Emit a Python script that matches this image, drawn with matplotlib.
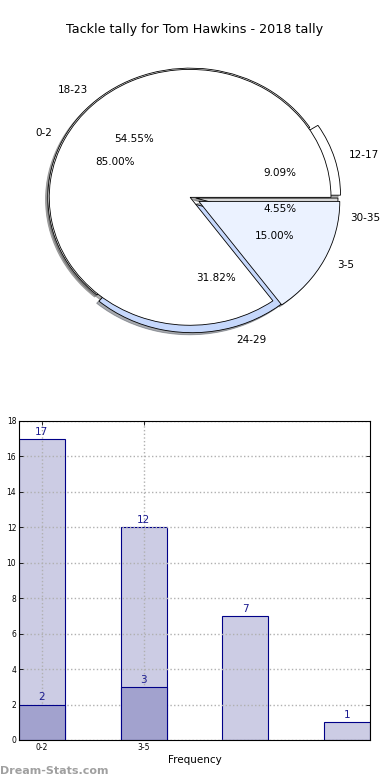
import numpy as np
import matplotlib
matplotlib.use("Agg")
import matplotlib.pyplot as plt

title = "Tackle tally for Tom Hawkins - 2018 tally"

# first pie
pie1_labels = ["0-2", "3-5"]
pie1_values = [17, 3]
# second pie
pie2_labels = ["12-17", "18-23", "24-29", "30-35"]
pie2_values = [2, 12, 7, 1]

# bar chart
bar_ticks = ["0-2", "3-5"]
bar_light = [17, 12, 7, 1]
bar_dark = [2, 3]

fig = plt.figure(figsize=(3.9, 7.8), dpi=100)
fig.text(0.5, 0.962, title, ha="center", va="center", fontsize=9.2)

shadow = dict(ox=-0.012, oy=-0.012, alpha=0.45)

ax1 = fig.add_axes([0.036, 0.542, 0.903, 0.41])
w2, t2, a2 = ax1.pie(pie2_values, labels=pie2_labels, autopct="%1.2f%%",
                     explode=[0.06, 0.0, 0.05, 0.04], shadow=shadow, radius=1.01,
                     colors=["white", "white", "#c6d8fc", "#d8d8d8"],
                     wedgeprops=dict(edgecolor="black", linewidth=0.6),
                     textprops=dict(fontsize=7.5))
w1, t1, a1 = ax1.pie(pie1_values, labels=pie1_labels, autopct="%1.2f%%",
                     explode=[0, 0.07], shadow=shadow,
                     colors=["white", "#ebf2ff"],
                     wedgeprops=dict(edgecolor="black", linewidth=0.6),
                     textprops=dict(fontsize=7.5))
for w in w1:
    w.set_zorder(2)
ax1.set_aspect("auto")
ax1.set_xlim(-1.25, 1.25)
ax1.set_ylim(-1.25, 1.25)

ax2 = fig.add_axes([0.0487, 0.0513, 0.9, 0.409])
x = np.arange(len(bar_light))
bl = ax2.bar(x, bar_light, width=0.45, align="edge", color="#ccccE4",
             edgecolor="#000088", linewidth=0.8, zorder=2)
bd = ax2.bar(x[:len(bar_dark)], bar_dark, width=0.45, align="edge", color="#a2a2ce",
             edgecolor="#000088", linewidth=0.8, zorder=3)
for bars in (bl, bd):
    for b in bars:
        ax2.text(b.get_x() + b.get_width() / 2, b.get_height() + 0.12, "%d" % b.get_height(),
                 ha="center", va="bottom", color="#1a1a90", fontsize=7.5, zorder=4)
ax2.set_xlim(0, 3.45)
ax2.set_ylim(0, 18)
ax2.set_yticks(np.arange(0, 19, 2))
ax2.set_xticks(x[:len(bar_ticks)] + 0.225)
ax2.set_xticklabels(bar_ticks)
ax2.tick_params(labelsize=5.5, direction="in", length=3, width=0.6, pad=2)
ax2.tick_params(top=True, right=True)
ax2.grid(True, linestyle=":", color="#b0b0b0", linewidth=1, zorder=0)
ax2.set_axisbelow(False)
ax2.set_xlabel("Frequency", fontsize=7.5, labelpad=2)
for s in ax2.spines.values():
    s.set_linewidth(0.8)
    s.set_zorder(5)

fig.text(0.0, 0.012, "Dream-Stats.com", ha="left", va="center", fontsize=8,
         fontweight="bold", color="#a0a0a0")

fig.savefig("out.png", dpi=100)
